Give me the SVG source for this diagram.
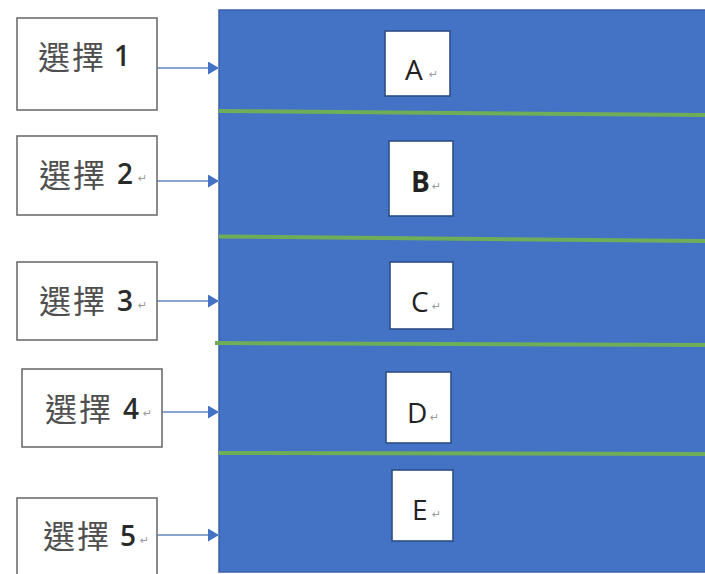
<svg xmlns="http://www.w3.org/2000/svg" width="705" height="574" viewBox="0 0 705 574">
<style>
.bg{fill:#ffffff}
.lbox{fill:#ffffff;stroke:#6e6e6e;stroke-width:1.6}
.ibox{fill:#ffffff;stroke:#2d4e86;stroke-width:1.6}
.cjk{font-family:"Noto Sans CJK TC","Noto Sans CJK SC",sans-serif;font-size:32px;fill:#4f4f4f}
.dig{font-family:"Open Sans","Liberation Sans",sans-serif;font-size:28px;fill:#2a2a2a;font-weight:600}
.let{font-family:"Open Sans","Liberation Sans",sans-serif;font-size:28px;fill:#222222}
.mk{font-family:"DejaVu Sans",sans-serif;font-size:11px;fill:#9a9a9a}
.conn{stroke:#8aa5cf;stroke-width:2;fill:none}
.grn{stroke:#6fae58;stroke-width:4;fill:none}
</style>
<defs>
<marker id="ah" markerUnits="userSpaceOnUse" markerWidth="12" markerHeight="14" refX="11" refY="6.5" orient="auto">
<path d="M0,0 L11,6.5 L0,13 z" fill="#4472c4"/>
</marker>
</defs>
<rect class="bg" x="0" y="0" width="705" height="574"/>
<g id="panel">
<rect x="219" y="10" width="490" height="562" fill="#4472c4" stroke="#3a62a8" stroke-width="1.5"/>
<line class="grn" x1="219" y1="111" x2="705" y2="115"/>
<line class="grn" x1="219" y1="236.5" x2="705" y2="241"/>
<line class="grn" x1="215" y1="343" x2="705" y2="345"/>
<line class="grn" x1="219" y1="453" x2="705" y2="454"/>
</g>
<g id="connectors">
<line class="conn" x1="157" y1="68" x2="219" y2="68" marker-end="url(#ah)"/>
<line class="conn" x1="157" y1="181" x2="219" y2="181" marker-end="url(#ah)"/>
<line class="conn" x1="150" y1="301" x2="219" y2="301" marker-end="url(#ah)"/>
<line class="conn" x1="155" y1="412" x2="219" y2="412" marker-end="url(#ah)"/>
<line class="conn" x1="157" y1="535" x2="219" y2="535" marker-end="url(#ah)"/>
</g>
<g id="choice1">
<rect class="lbox" x="17" y="18" width="140" height="92"/>
<text class="cjk" x="38" y="69" letter-spacing="2">選擇</text>
<text class="dig" x="114" y="66">1</text>
</g>
<g id="choice2">
<rect class="lbox" x="17" y="136" width="140" height="79"/>
<text class="cjk" x="39" y="187" letter-spacing="2">選擇</text>
<text class="dig" x="117" y="184">2</text>
<text class="mk" x="138" y="182">↵</text>
</g>
<g id="choice3">
<rect class="lbox" x="17" y="262" width="140" height="78"/>
<text class="cjk" x="39" y="313" letter-spacing="2">選擇</text>
<text class="dig" x="117" y="311">3</text>
<text class="mk" x="138" y="309">↵</text>
</g>
<g id="choice4">
<rect class="lbox" x="22" y="369" width="140" height="78"/>
<text class="cjk" x="45" y="421" letter-spacing="2">選擇</text>
<text class="dig" x="123" y="419">4</text>
<text class="mk" x="143" y="417">↵</text>
</g>
<g id="choice5">
<rect class="lbox" x="17" y="498" width="140" height="90"/>
<text class="cjk" x="43" y="548" letter-spacing="2">選擇</text>
<text class="dig" x="120" y="546">5</text>
<text class="mk" x="140" y="544">↵</text>
</g>
<g id="itemA">
<rect class="ibox" x="385" y="31" width="65" height="65"/>
<text class="let" x="405" y="80">A</text>
<text class="mk" x="429" y="78">↵</text>
</g>
<g id="itemB">
<rect class="ibox" x="389" y="141" width="64" height="75"/>
<text class="let" x="411" y="192" font-weight="bold">B</text>
<text class="mk" x="432" y="190">↵</text>
</g>
<g id="itemC">
<rect class="ibox" x="390" y="262" width="63" height="67"/>
<text class="let" x="411" y="312">C</text>
<text class="mk" x="432" y="310">↵</text>
</g>
<g id="itemD">
<rect class="ibox" x="386" y="372" width="65" height="71"/>
<text class="let" x="407" y="423">D</text>
<text class="mk" x="430" y="421">↵</text>
</g>
<g id="itemE">
<rect class="ibox" x="392" y="470" width="61" height="71"/>
<text class="let" x="412" y="520">E</text>
<text class="mk" x="432" y="518">↵</text>
</g>
</svg>
